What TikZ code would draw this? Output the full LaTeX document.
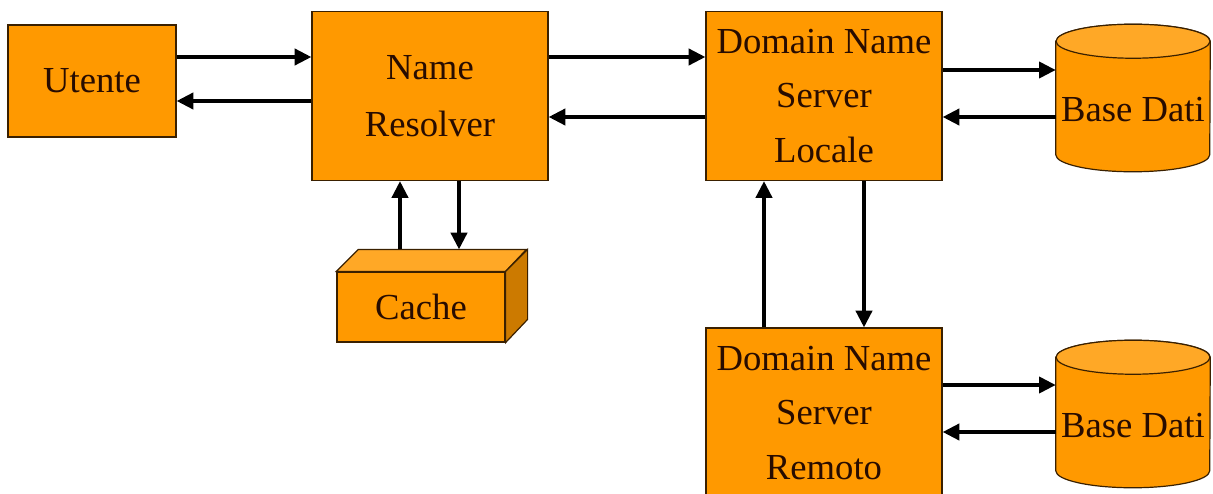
\documentclass[tikz,border=0pt]{standalone}
\usepackage{fontspec}
\setmainfont{Liberation Serif}
\usetikzlibrary{positioning,arrows.meta}
\definecolor{cBox}  {RGB}{255,153,0}
\definecolor{cTop}  {RGB}{255,168,38}
\definecolor{cSide} {RGB}{204,122,0}
\definecolor{cLine} {RGB}{58,32,0}
\definecolor{cText} {RGB}{40,12,0}

\begin{document}
\begin{tikzpicture}[x=0.75pt,y=-0.75pt]

%% -- shared styles -----------------------------------------------------------
\tikzset{
  box/.style={
    rectangle, draw=cLine, fill=cBox, line width=0.9pt,
    text=cText, align=center, inner sep=0pt,
    font=\fontsize{27.5}{41}\selectfont
  },
  dbase/.style={
    rectangle, draw=none, inner sep=0pt, text=cText,
    minimum width=115.5pt, minimum height=110.25pt,
    font=\fontsize{27.5}{41}\selectfont
  },
  arr/.style={-{Triangle[length=12.5pt,width=12pt]}, line width=2.8pt, black},
}

\useasboundingbox (0,0) rectangle (1213,493);

%% -- nodes -------------------------------------------------------------------
\node[box, minimum width=126pt, minimum height=84pt]     (utente)    at (92,81)   {Utente};
\node[box, minimum width=177pt, minimum height=126.75pt,
      font=\fontsize{27.5}{43}\selectfont]                (resolver)  at (430,96)  {Name\\Resolver};
\node[box, minimum width=177pt, minimum height=126.75pt] (dnsLocale) at (824,96)  {Domain Name\\Server\\Locale};
\node[box, minimum width=177pt, minimum height=127.5pt]  (dnsRemoto) at (824,413) {Domain Name\\Server\\Remoto};

%% cache as a solid block
\node[box, minimum width=126pt, minimum height=52.5pt]   (cache)     at (421,307) {Cache};
\draw[cLine, line width=0.9pt, fill=cTop]
  (cache.north west) -- ++(16.5pt,16.5pt) -- ++(126pt,0pt) -- (cache.north east) -- cycle;
\draw[cLine, line width=0.9pt, fill=cSide]
  (cache.north east) -- ++(16.5pt,16.5pt) -- ++(0pt,-52.5pt) -- (cache.south east) -- cycle;
\coordinate (cacheTop) at ([yshift=16.5pt]cache.north);

%% databases as cylinders
\node[dbase] (dbLocale) at (1133,98)  {};
\node[dbase] (dbRemoto) at (1133,414) {};
\foreach \db in {dbLocale,dbRemoto}{
  \draw[cLine, line width=0.9pt, fill=cBox]
    ([yshift=-12.75pt]\db.north west) -- ([yshift=12.75pt]\db.south west)
    arc[start angle=180, end angle=360, x radius=57.75pt, y radius=12.75pt]
    -- ([yshift=-12.75pt]\db.north east)
    arc[start angle=0, end angle=180, x radius=57.75pt, y radius=12.75pt] -- cycle;
  \draw[cLine, line width=0.9pt, fill=cTop]
    ([yshift=-12.75pt]\db.north) ellipse[x radius=57.75pt, y radius=12.75pt];
  \node[dbase] at ([yshift=-9pt]\db.center) {Base Dati};
}

%% -- connectors --------------------------------------------------------------
\draw[arr] (utente.east |- 0,57)     -- (resolver.west |- 0,57);
\draw[arr] (resolver.west |- 0,101)  -- (utente.east |- 0,101);

\draw[arr] (resolver.east |- 0,57)   -- (dnsLocale.west |- 0,57);
\draw[arr] (dnsLocale.west |- 0,117) -- (resolver.east |- 0,117);

\draw[arr] (dnsLocale.east |- 0,70)  -- (dbLocale.west |- 0,70);
\draw[arr] (dbLocale.west |- 0,117)  -- (dnsLocale.east |- 0,117);

\draw[arr] (400,0 |- cacheTop)       -- (400,0 |- resolver.south);
\draw[arr] (459,0 |- resolver.south) -- (459,0 |- cacheTop);

\draw[arr] (764,0 |- dnsRemoto.north)  -- (764,0 |- dnsLocale.south);
\draw[arr] (864,0 |- dnsLocale.south)  -- (864,0 |- dnsRemoto.north);

\draw[arr] (dnsRemoto.east |- 0,385) -- (dbRemoto.west |- 0,385);
\draw[arr] (dbRemoto.west |- 0,432)  -- (dnsRemoto.east |- 0,432);

\end{tikzpicture}
\end{document}
